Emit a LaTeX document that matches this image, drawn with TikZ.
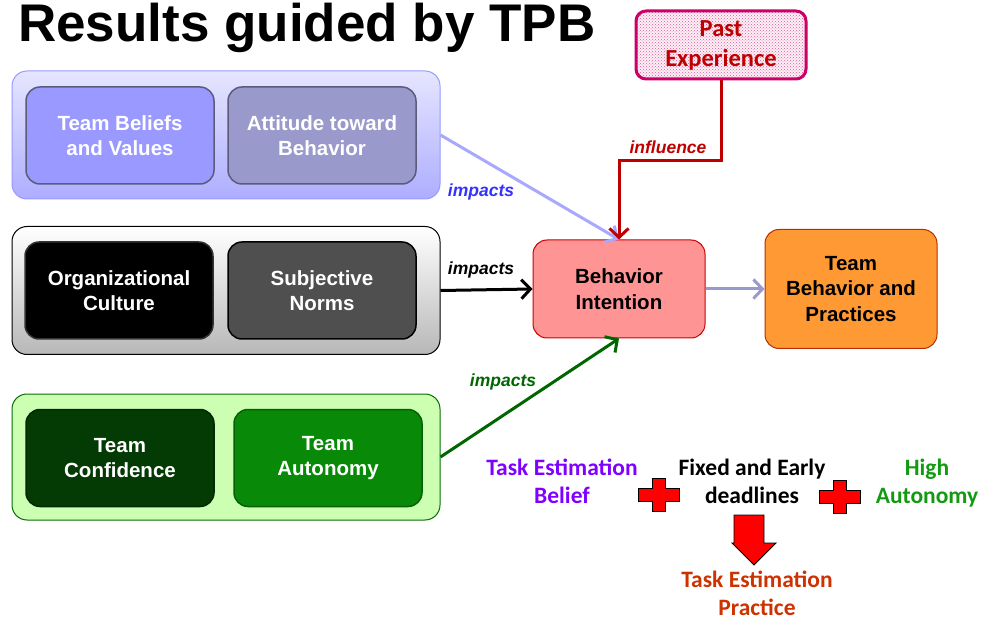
\documentclass[tikz,border=0pt]{standalone}
\usepackage{fontspec}
\setmainfont{Liberation Sans}
\newfontfamily\calfont{Carlito}
\usetikzlibrary{arrows.meta,patterns}
\definecolor{cattfill}{RGB}{153,153,255}
\definecolor{cattgrey}{RGB}{153,153,204}
\definecolor{cnorm}{RGB}{79,79,79}
\definecolor{cconf}{RGB}{4,58,4}
\definecolor{cauto}{RGB}{8,138,8}
\definecolor{cintent}{RGB}{255,148,148}
\definecolor{cbehav}{RGB}{255,153,51}
\definecolor{cpast}{RGB}{204,0,102}
\definecolor{cinfl}{RGB}{192,0,0}
\definecolor{cpurple}{RGB}{127,0,255}
\definecolor{cgreen}{RGB}{18,154,18}
\definecolor{corange}{RGB}{204,51,0}

\begin{document}
\begin{tikzpicture}[x=1pt,y=-1pt,
  grp/.style={rounded corners=15pt,line width=1pt,minimum width=428pt,minimum height=128pt,inner sep=0pt},
  factor/.style={rounded corners=14pt,line width=1.5pt,minimum width=188pt,minimum height=97pt,inner sep=0pt,
    text=white,align=center,font=\fontsize{20.5}{25.5}\selectfont\bfseries},
  result/.style={rounded corners=14pt,line width=1pt,minimum width=172pt,inner sep=0pt,
    align=center,font=\fontsize{20.5}{25.5}\selectfont\bfseries},
  impact/.style={-{Straight Barb[length=9pt,width=19pt]},line width=3pt},
  lbl/.style={font=\fontsize{17.5}{20}\selectfont\bfseries\itshape},
  note/.style={align=center,inner sep=0.5pt,font=\calfont\fontsize{23.5}{28}\selectfont\bfseries},
  crossmark/.style={fill=red,draw=black,line width=0.8pt},
]
\useasboundingbox (0,0) rectangle (983,620);
\node[anchor=base west,font=\fontsize{53}{60}\selectfont\bfseries,inner sep=0pt] (title) at (18,42) {Results guided by TPB};

% attitude group
\node[grp,draw=cattfill,top color=cattfill!25,bottom color=cattfill!80] (grpatt) at (226,135) {};
\node[factor,fill=cattfill,draw=cattgrey!60!black] (beliefs) at (120,135.5) {Team Beliefs\\and Values};
\node[factor,fill=cattgrey,draw=cattgrey!60!black] (attitude) at (322,135.5) {Attitude toward\\Behavior};

% norms group
\node[grp,draw=black,top color=white,bottom color=black!28] (grpnorm) at (226,290.5) {};
\node[factor,fill=black,draw=black!80] (orgcult) at (119,290.5) {Organizational\\Culture};
\node[factor,fill=cnorm,draw=black] (subjnorm) at (322,290.5) {Subjective\\Norms};

% control group
\node[grp,draw=cauto!80!black,fill=green!55!lime!30,minimum height=126pt] (grpctrl) at (226,457) {};
\node[factor,fill=cconf,draw=cconf!70!black] (confid) at (120,458) {Team\\Confidence};
\node[factor,fill=cauto,draw=cauto!70!black] (autonomy) at (328,458) {Team\\Autonomy};

\node[result,fill=cintent,draw=red!80!black,minimum height=98pt] (intent) at (619,289) {Behavior\\Intention};
\node[result,fill=cbehav,draw=corange!90!black,minimum height=119pt] (behav) at (851,289) {Team\\Behavior and\\Practices};
\node[draw=cpast,line width=3pt,rounded corners=10pt,preaction={fill=cpast!6},pattern=crosshatch dots,pattern color=cpast!65,
  minimum width=170pt,minimum height=68pt,align=center,text=cinfl,
  font=\calfont\fontsize{24.5}{30}\selectfont\bfseries] (past) at (721,45) {Past\\Experience};

\draw[impact,cattfill!85!white] (grpatt.east) -- (intent.north);
\draw[impact,black] (grpnorm.east) -- (intent.west);
\draw[impact,green!40!black] (grpctrl.east) -- (intent.south);
\draw[impact,cinfl] (past.south) -- ++(0,80) -| (intent.north);
\draw[impact,cattgrey] (intent.east) -- (behav.west);

\node[lbl,text=blue!80!white] (lblatt) at (481,192) {impacts};
\node[lbl,text=black] (lblnorm) at (481,270) {impacts};
\node[lbl,text=green!40!black] (lblctrl) at (503,382) {impacts};
\node[lbl,text=cinfl] (lblinfl) at (668,147) {influence};

% task estimation
\node[note,text=cpurple] (belief) at (562,481) {Task Estimation\\Belief};
\node[note,text=black] (deadline) at (752,481) {Fixed and Early\\deadlines};
\node[note,text=cgreen] (high) at (927,483) {High\\Autonomy};
\node[note,text=corange] (practice) at (757,593) {Task Estimation\\Practice};
\foreach \cx/\cy in {658.5/494.5,839.5/497}
  \draw[crossmark] (\cx-20.5,\cy-6.5) -- (\cx-6.5,\cy-6.5) -- (\cx-6.5,\cy-16.5) -- (\cx+6.5,\cy-16.5)
    -- (\cx+6.5,\cy-6.5) -- (\cx+20.5,\cy-6.5) -- (\cx+20.5,\cy+6.5) -- (\cx+6.5,\cy+6.5)
    -- (\cx+6.5,\cy+16.5) -- (\cx-6.5,\cy+16.5) -- (\cx-6.5,\cy+6.5) -- (\cx-20.5,\cy+6.5) -- cycle;
\draw[crossmark] (734,515) -- (764,515) -- (764,543) -- (776,543) -- (754,565) -- (732,543) -- (734,543) -- cycle;
\end{tikzpicture}
\end{document}
